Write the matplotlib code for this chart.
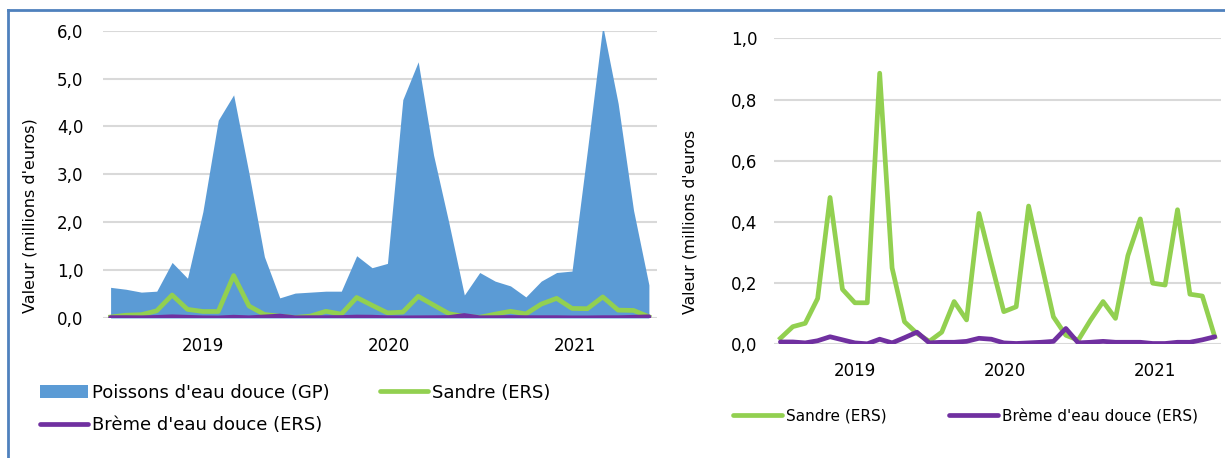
import matplotlib
matplotlib.use("Agg")
import matplotlib.pyplot as plt
from matplotlib.lines import Line2D
from matplotlib.patches import Patch
from matplotlib.ticker import FuncFormatter
import numpy as np

# Monthly values, 36 months (millions d'euros)
gp_values = [0.64, 0.60, 0.54, 0.56, 1.16, 0.83, 2.22, 4.13, 4.66, 3.02, 1.28, 0.42,
             0.52, 0.54, 0.56, 0.56, 1.30, 1.05, 1.14, 4.56, 5.35, 3.40, 1.98, 0.48,
             0.95, 0.77, 0.67, 0.44, 0.77, 0.95, 0.98, 3.50, 6.10, 4.48, 2.25, 0.69]
sandre_values = [0.020, 0.058, 0.069, 0.150, 0.480, 0.180, 0.136, 0.136, 0.886, 0.250, 0.074, 0.036,
                 0.010, 0.040, 0.140, 0.080, 0.428, 0.265, 0.107, 0.123, 0.452, 0.270, 0.090, 0.030,
                 0.014, 0.080, 0.140, 0.085, 0.290, 0.410, 0.200, 0.194, 0.440, 0.164, 0.158, 0.025]
breme_values = [0.008, 0.008, 0.005, 0.012, 0.025, 0.015, 0.005, 0.002, 0.017, 0.005, 0.022, 0.040,
                0.005, 0.007, 0.007, 0.010, 0.020, 0.017, 0.005, 0.003, 0.005, 0.007, 0.010, 0.052,
                0.005, 0.007, 0.010, 0.007, 0.007, 0.007, 0.003, 0.003, 0.007, 0.007, 0.015, 0.025]
year_labels = ["2019", "2020", "2021"]
year_positions = [6, 18.1, 30.2]

BLUE = "#5B9BD5"
GREEN = "#92D050"
PURPLE = "#7030A0"
GRID = "#D9D9D9"

plt.rcParams["font.family"] = ["DejaVu Sans"]

fig = plt.figure(figsize=(12.25, 4.58), dpi=100)
ax1 = fig.add_axes([0.084, 0.3057, 0.452, 0.6273])
ax2 = fig.add_axes([0.632, 0.248, 0.3647, 0.6684])

x = np.arange(len(gp_values))
comma_fmt = FuncFormatter(lambda v, p: f"{v:.1f}".replace(".", ","))

# Left panel: area + lines
ax1.fill_between(x, gp_values, color=BLUE, lw=0, zorder=2)
ax1.plot(x, sandre_values, color=GREEN, lw=3.4, zorder=3)
ax1.plot(x, breme_values, color=PURPLE, lw=3.4, zorder=4, solid_capstyle="round")
ax1.set_ylim(0, 6.0)
ax1.set_yticks(np.arange(0, 6.01, 1.0))
ax1.yaxis.set_major_formatter(comma_fmt)
ax1.set_ylabel("Valeur (millions d'euros)", fontsize=11.5)
ax1.yaxis.set_label_coords(-0.118, 0.358)

# Right panel: lines only
ax2.plot(x, sandre_values, color=GREEN, lw=3.4, zorder=3)
ax2.plot(x, breme_values, color=PURPLE, lw=3.4, zorder=4, solid_capstyle="round")
ax2.set_ylim(0, 1.0)
ax2.set_yticks(np.arange(0, 1.01, 0.2))
ax2.yaxis.set_major_formatter(comma_fmt)
ax2.set_ylabel("Valeur (millions d'euros", fontsize=11.3)
ax2.yaxis.set_label_coords(-0.172, 0.40)

for ax, ypad, xpad in [(ax1, 14, 13.5), (ax2, 12, 13)]:
    ax.set_xlim(-0.5, len(gp_values) - 0.5)
    ax.set_xticks(year_positions)
    ax.set_xticklabels(year_labels)
    ax.grid(axis="y", color=GRID, lw=1.5, zorder=0)
    ax.set_axisbelow(True)
    for s in ax.spines.values():
        s.set_visible(False)
    ax.tick_params(axis="both", length=0, labelsize=12, colors="black")
    ax.tick_params(axis="y", pad=ypad)
    ax.tick_params(axis="x", pad=xpad)

# Legends
h_gp = Patch(facecolor=BLUE, edgecolor="none")
h_sa = Line2D([], [], color=GREEN, lw=3.4, solid_capstyle="round")
h_br = Line2D([], [], color=PURPLE, lw=3.4, solid_capstyle="round")
fig.legend([h_gp, h_br, h_sa],
           ["Poissons d'eau douce (GP)", "Brème d'eau douce (ERS)", "Sandre (ERS)"],
           ncol=2, loc="upper left", bbox_to_anchor=(0.0254, 0.182), frameon=False,
           fontsize=13, handlelength=2.65, handletextpad=0.22, columnspacing=2.8,
           borderpad=0, labelspacing=0.82)
fig.legend([h_sa, h_br], ["Sandre (ERS)", "Brème d'eau douce (ERS)"],
           ncol=2, loc="upper left", bbox_to_anchor=(0.592, 0.126), frameon=False,
           fontsize=11, handlelength=3.2, handletextpad=0.25, columnspacing=4.1,
           borderpad=0)

# Frame lines around the figure
frame = "#4F81BD"
fig.add_artist(Line2D([0.0065, 0.0065], [0.0, 0.978], color=frame, lw=2, transform=fig.transFigure))
fig.add_artist(Line2D([0.0065, 1.0], [0.978, 0.978], color=frame, lw=2, transform=fig.transFigure))

fig.savefig("out.png", dpi=100)
